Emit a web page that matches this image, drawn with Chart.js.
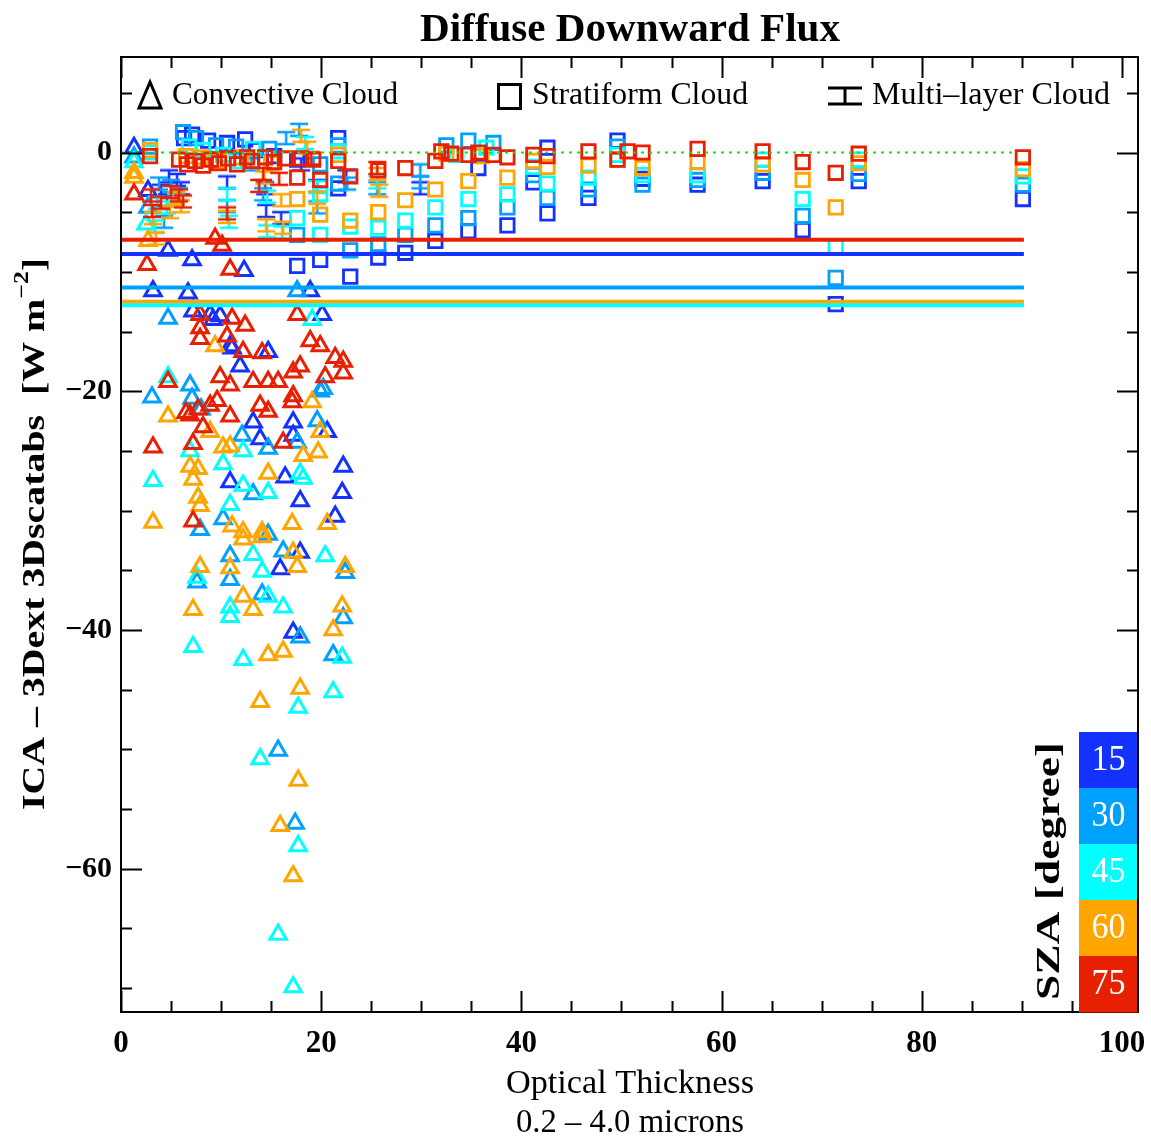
<!DOCTYPE html>
<html lang="en">
<head>
  <meta charset="UTF-8" />
  <title>Diffuse Downward Flux</title>
  <style>
    body { margin: 0; background: #ffffff; }
    canvas { display: block; }
  </style>
</head>
<body>
  <canvas id="chart" width="1151" height="1143"></canvas>

  <script src="https://cdn.jsdelivr.net/npm/chart.js"></script>
  <script>
    // solar zenith angle classes and their colours
    const szaLabels = ['15', '30', '45', '60', '75'];
    const szaColors = ['#1432ff', '#00a0ff', '#00ffff', '#ffa500', '#e62000'];

    // axis tick values
    const xTickValues = [0, 20, 40, 60, 80, 100];
    const yTickValues = [-60, -40, -20, 0];

    // mean difference per SZA (horizontal lines) and the x-span they cover
    const meanDiff = [-8.5, -11.3, -12.8, -12.5, -7.3];
    const meanSpan = [0, 90.2];
    const zeroSpan = [0, 89.5];

    // [optical thickness, ICA - 3D difference]
    const convective15 = [[1.3,0.4],[2.7,-3.2],[3.2,-11.6],[4.7,-8.2],[7.1,-9.0],[12.3,-9.9],[6.7,-11.8],[18.9,-11.6],
      [7.2,-13.3],[8.9,-13.6],[9.9,-13.7],[20.1,-13.6],[10.9,-16.2],[14.7,-16.7],[11.9,-17.9],[11.1,-16.4],[13.2,-22.6],
      [13.9,-24.0],[17.2,-22.6],[17.2,-23.7],[20.6,-23.4],[16.4,-27.2],[22.2,-26.3],[22.1,-28.5],[17.9,-29.2],[21.4,-30.5],
      [17.9,-33.5],[15.9,-34.9],[17.2,-40.2],[10.9,-27.6],[9.2,-14.0]];
    const convective30 = [[1.3,-0.4],[2.7,-4.6],[4.7,-13.9],[17.6,-11.6],[3.1,-20.5],[6.9,-19.5],[7.1,-20.6],[19.9,-20.0],
      [19.6,-22.5],[12.1,-23.7],[14.7,-24.8],[17.6,-24.3],[13.2,-28.6],[7.9,-31.6],[10.2,-30.7],[14.7,-32.0],[10.9,-33.8],
      [16.2,-33.4],[7.6,-36.0],[10.9,-35.8],[14.1,-37.0],[22.2,-39.0],[22.4,-35.2],[17.9,-40.6],[21.2,-42.1],[17.4,-56.2],
      [15.7,-50.1],[20.2,-19.8],[8.0,-21.5]];
    const convective45 = [[1.3,-0.8],[2.5,-6.0],[3.2,-27.5],[4.7,-18.8],[19.1,-14.0],[6.9,-25.0],[12.2,-25.0],[10.2,-26.1],
      [17.9,-26.9],[18.2,-27.3],[12.2,-27.9],[14.7,-28.5],[10.9,-29.5],[13.2,-33.7],[20.4,-33.8],[14.1,-35.1],[7.6,-35.6],
      [14.7,-37.2],[16.2,-38.1],[10.9,-38.1],[7.2,-41.4],[12.2,-42.5],[22.1,-42.3],[21.2,-45.2],[17.7,-46.5],[13.9,-50.8],
      [17.7,-58.1],[15.7,-65.5],[17.2,-69.9],[10.9,-38.9]];
    const convective60 = [[1.3,-1.7],[1.3,-2.1],[2.7,-7.4],[9.4,-16.2],[19.1,-20.9],[4.7,-22.1],[19.9,-23.4],[8.9,-23.4],
      [10.2,-24.7],[10.9,-24.6],[18.2,-25.4],[19.7,-25.1],[6.9,-26.3],[7.7,-26.5],[7.2,-27.4],[14.7,-26.9],[7.7,-28.9],
      [7.9,-29.6],[3.2,-31.0],[11.1,-31.3],[12.2,-31.8],[14.1,-31.8],[17.1,-31.1],[20.6,-31.1],[12.2,-32.4],[14.1,-32.2],
      [17.2,-33.5],[7.9,-34.7],[10.9,-34.8],[17.6,-34.7],[22.4,-34.7],[12.2,-37.2],[13.2,-38.3],[7.2,-38.3],[22.1,-38.0],
      [21.2,-40.0],[14.7,-42.1],[16.2,-41.8],[17.9,-44.9],[13.9,-46.0],[17.7,-52.6],[15.9,-56.4],[17.2,-60.6]];
    const convective75 = [[1.3,-3.5],[2.6,-9.4],[3.2,-24.7],[9.4,-7.2],[10.1,-7.8],[10.9,-9.8],[7.9,-13.6],[11.1,-13.9],
      [12.4,-14.5],[7.9,-14.7],[7.9,-15.6],[10.6,-15.4],[12.2,-16.7],[14.1,-16.8],[17.6,-13.6],[18.9,-15.8],[19.9,-16.2],
      [21.4,-17.2],[22.2,-17.5],[22.2,-18.5],[17.9,-17.9],[20.4,-18.8],[17.2,-18.4],[4.7,-19.2],[9.9,-18.8],[10.9,-19.5],
      [13.2,-19.2],[14.7,-19.2],[15.7,-19.2],[17.2,-20.4],[17.1,-20.9],[6.9,-22.0],[7.7,-21.5],[8.9,-21.2],[9.6,-20.8],
      [10.9,-22.1],[13.9,-21.2],[14.7,-21.7],[7.2,-24.4],[16.2,-24.3],[7.2,-30.9],[6.5,-21.8],[8.2,-23.0]];

    const stratiform15 = [[6.3,1.2],[7.1,1.5],[8.7,1.0],[10.6,0.8],[12.4,1.1],[13.5,0.2],[15.3,-0.3],[17.6,-0.6],[21.7,1.2],
      [17.6,-9.5],[19.9,-9.0],[22.9,-10.4],[21.7,-3.0],[25.7,-8.8],[28.4,-8.4],[31.4,-7.4],[34.7,-6.6],[35.7,-1.3],[38.6,-6.1],
      [41.2,-2.5],[42.6,0.4],[42.6,-5.1],[46.7,-3.8],[49.6,1.0],[52.1,-2.2],[57.6,-2.7],[64.1,-2.4],[68.1,-6.5],[71.4,-12.7],
      [73.7,-2.4],[90.1,-3.9]];
    const stratiform30 = [[2.9,0.5],[6.2,1.7],[7.5,1.2],[9.5,0.6],[11.5,0.5],[14.8,0.3],[17.6,-6.9],[19.9,-1.0],[21.7,0.6],
      [22.9,-8.2],[21.7,-2.6],[25.7,-7.7],[28.4,-6.9],[31.4,-6.1],[32.5,0.6],[34.7,-5.5],[34.7,1.0],[37.2,0.8],[38.6,-4.6],
      [41.2,-1.9],[42.6,-3.8],[46.7,-3.1],[49.6,0.5],[52.1,-2.7],[57.6,-2.3],[64.1,-1.7],[68.1,-5.3],[71.4,-10.5],[73.7,-1.8],
      [90.1,-2.7]];
    const stratiform45 = [[2.9,0.0],[6.8,0.5],[8.2,0.2],[10.2,-0.2],[13.2,0.3],[17.6,-5.5],[19.9,-3.5],[19.9,-6.9],[21.7,0.1],
      [22.9,-6.2],[25.7,-6.3],[28.4,-5.7],[31.4,-4.6],[33.5,-0.2],[34.7,-3.9],[36.5,0.4],[38.6,-3.5],[41.2,-1.2],[42.6,-2.6],
      [46.7,-2.1],[49.6,-0.2],[52.1,-1.9],[57.6,-1.9],[64.1,-0.6],[68.1,-3.9],[71.4,-7.9],[73.7,-0.6],[90.1,-2.0]];
    const stratiform60 = [[2.9,0.2],[6.5,-0.3],[8.0,-0.4],[9.8,-0.7],[12.0,-0.4],[15.0,-0.9],[17.6,-3.9],[19.9,-5.2],[21.7,-0.2],
      [22.9,-5.7],[25.7,-5.0],[28.4,-4.0],[31.4,-3.1],[32.5,-0.1],[34.7,-2.4],[36.0,-0.3],[38.6,-2.1],[41.2,-0.7],[42.6,-1.2],
      [46.7,-1.1],[49.6,-0.6],[52.1,-1.3],[57.6,-0.8],[64.1,-1.0],[68.1,-2.3],[71.4,-4.6],[73.7,-0.9],[90.1,-1.4]];
    const stratiform75 = [[2.9,-0.3],[5.8,-0.6],[6.6,-1.0],[7.4,-0.7],[8.2,-1.1],[9.0,-0.6],[9.8,-0.9],[10.7,-0.5],[11.6,-1.0],
      [12.6,-0.4],[13.1,-0.7],[14.4,-0.4],[15.3,-0.8],[16.4,-0.5],[18.0,-0.5],[19.2,-0.6],[17.6,-2.1],[19.9,-2.3],[21.7,-0.7],
      [22.9,-2.0],[25.7,-1.5],[28.4,-1.3],[31.4,-0.7],[32.0,0.1],[33.0,-0.1],[34.7,-0.2],[35.7,0.0],[37.2,-0.2],[38.6,-0.4],
      [41.2,-0.2],[42.6,-0.3],[46.7,0.1],[49.6,-0.6],[50.6,0.1],[52.1,0.0],[57.6,0.3],[64.1,0.1],[68.1,-0.8],[71.4,-1.7],
      [73.7,-0.1],[90.1,-0.4]];

    const multilayer15 = [[4.0,-3.2],[4.8,-2.0],[5.6,-2.3],[6.0,-3.0],[10.6,-2.5],[14.4,-3.0],[14.5,-4.9],[16.0,-5.5],[18.0,-1.0],
      [19.6,-2.8],[22.5,-2.0],[29.9,-3.0],[4.6,-4.0]];
    const multilayer30 = [[3.8,-2.6],[5.0,-2.8],[5.8,-3.5],[10.6,-4.5],[14.2,-3.5],[16.5,1.2],[17.8,1.9],[19.6,-4.6],[22.6,-2.6],
      [25.6,-3.0],[29.9,-1.5],[29.9,-2.5],[4.3,-5.8],[13.0,-1.0]];
    const multilayer45 = [[3.6,-4.2],[4.6,-4.6],[5.5,-4.0],[10.6,-3.5],[10.8,-5.8],[14.6,-3.7],[14.6,-6.6],[16.1,-6.7],[18.4,0.8],
      [19.6,-2.9],[25.6,-2.5],[3.4,-6.2],[12.0,-0.8]];
    const multilayer60 = [[3.2,-5.5],[4.9,-5.0],[5.5,-3.8],[6.0,-4.5],[10.6,-5.4],[14.3,-2.1],[14.5,-6.1],[16.0,-4.0],[16.2,-6.3],
      [18.0,1.4],[18.6,0.4],[19.6,-3.8],[25.6,-1.8],[25.8,-3.2],[3.5,-7.2]];
    const multilayer75 = [[3.1,-4.9],[4.0,-4.2],[5.0,-3.3],[5.8,-3.6],[6.2,-4.1],[10.6,-5.1],[14.2,-1.8],[15.8,-2.2],[13.8,-2.8],
      [25.6,-1.3],[19.0,-0.5],[3.0,-3.6]];

    const convective = [convective15, convective30, convective45, convective60, convective75];
    const stratiform = [stratiform15, stratiform30, stratiform45, stratiform60, stratiform75];
    const multilayer = [multilayer15, multilayer30, multilayer45, multilayer60, multilayer75];

    const serif = '"Liberation Serif", "DejaVu Serif", serif';

    // "I" shaped marker for multi-layer cloud
    function makeIBeam(color) {
      const c = document.createElement('canvas');
      c.width = 20;
      c.height = 16;
      const g = c.getContext('2d');
      g.strokeStyle = color;
      g.lineWidth = 2.5;
      g.beginPath();
      g.moveTo(1, 2); g.lineTo(19, 2);
      g.moveTo(1, 14); g.lineTo(19, 14);
      g.moveTo(10, 2); g.lineTo(10, 14);
      g.stroke();
      return c;
    }

    const toPts = arr => arr.map(p => ({ x: p[0], y: p[1] }));

    const datasets = [];
    // zero reference line
    datasets.push({
      type: 'scatter', showLine: true, order: 0,
      data: zeroSpan.map(x => ({ x: x, y: 0 })),
      borderColor: '#00ee00', borderWidth: 2, borderDash: [3, 5], pointRadius: 0
    });
    szaColors.forEach((col, i) => {
      datasets.push({
        type: 'scatter', showLine: true, order: 0,
        data: meanSpan.map(x => ({ x: x, y: meanDiff[i] })),
        borderColor: col, borderWidth: 4, pointRadius: 0
      });
      const ord = 5 - i;
      datasets.push({
        order: ord, data: toPts(convective[i]), pointStyle: 'triangle', pointRadius: 9.5,
        borderColor: col, backgroundColor: 'rgba(0,0,0,0)', borderWidth: 3
      });
      datasets.push({
        order: ord, data: toPts(stratiform[i]), pointStyle: 'rect', pointRadius: 9.5,
        borderColor: col, backgroundColor: 'rgba(0,0,0,0)', borderWidth: 2.8
      });
      datasets.push({
        order: ord, data: toPts(multilayer[i]), pointStyle: makeIBeam(col), pointRadius: 8
      });
    });

    function fitText(ctx, text, cx, cy, width) {
      const w = ctx.measureText(text).width;
      ctx.save();
      ctx.translate(cx, cy);
      ctx.scale(width / w, 1);
      ctx.fillText(text, 0, 0);
      ctx.restore();
    }

    const decorPlugin = {
      id: 'decor',
      afterDraw(chart) {
        const { ctx, chartArea: a, scales: { x, y } } = chart;
        ctx.save();

        // tick marks pointing inward, on all four sides
        ctx.strokeStyle = '#000';
        ctx.lineWidth = 2;
        ctx.beginPath();
        for (let v = 0; v <= 100; v += 5) {
          const px = Math.round(x.getPixelForValue(v)) + 0.5;
          const len = v % 20 === 0 ? 21 : 11;
          ctx.moveTo(px, a.bottom); ctx.lineTo(px, a.bottom - len);
          ctx.moveTo(px, a.top); ctx.lineTo(px, a.top + len);
        }
        for (let v = -70; v <= 5; v += 5) {
          const py = Math.round(y.getPixelForValue(v)) + 0.5;
          const len = v % 20 === 0 ? 21 : 11;
          ctx.moveTo(a.left, py); ctx.lineTo(a.left + len, py);
          ctx.moveTo(a.right, py); ctx.lineTo(a.right - len, py);
        }
        ctx.stroke();
        ctx.strokeRect(a.left, a.top, a.right - a.left, a.bottom - a.top);

        ctx.fillStyle = '#000';
        ctx.textAlign = 'center';
        ctx.textBaseline = 'middle';

        // title
        ctx.font = 'bold 40px ' + serif;
        fitText(ctx, 'Diffuse Downward Flux', 630, 31, 420);

        // x axis title
        ctx.font = '33px ' + serif;
        fitText(ctx, 'Optical Thickness', 630, 1084, 248);
        fitText(ctx, '0.2 – 4.0 microns', 630, 1123, 228);

        // y axis title with superscript
        ctx.save();
        ctx.translate(36, 534);
        ctx.rotate(-Math.PI / 2);
        ctx.font = 'bold 31px ' + serif;
        const main = 'ICA – 3Dext 3Dscatabs  [W m';
        const wMain = ctx.measureText(main).width;
        ctx.font = 'bold 20px ' + serif;
        const wSup = ctx.measureText('−2').width;
        ctx.font = 'bold 31px ' + serif;
        const wEnd = ctx.measureText(']').width;
        const total = wMain + wSup + wEnd;
        ctx.scale(552 / total, 1);
        ctx.textAlign = 'left';
        let cx = -total / 2;
        ctx.fillText(main, cx, 0);
        cx += wMain;
        ctx.font = 'bold 20px ' + serif;
        ctx.fillText('−2', cx, -13);
        cx += wSup;
        ctx.font = 'bold 31px ' + serif;
        ctx.fillText(']', cx, 0);
        ctx.restore();

        // legend inside the plot
        ctx.lineWidth = 3;
        ctx.beginPath();
        ctx.moveTo(150, 82); ctx.lineTo(161, 108); ctx.lineTo(139, 108); ctx.closePath();
        ctx.stroke();
        ctx.strokeRect(498.5, 84.5, 22, 24);
        ctx.beginPath();
        ctx.moveTo(828, 88); ctx.lineTo(862, 88);
        ctx.moveTo(828, 104); ctx.lineTo(862, 104);
        ctx.moveTo(845, 88); ctx.lineTo(845, 104);
        ctx.stroke();
        ctx.font = '31px ' + serif;
        ctx.textAlign = 'center';
        fitText(ctx, 'Convective Cloud', 285, 96, 226);
        fitText(ctx, 'Stratiform Cloud', 640, 96, 216);
        fitText(ctx, 'Multi–layer Cloud', 991, 96, 238);

        // SZA colour key
        const kx = 1079, kw = a.right - kx, kTop = 732, kh = (a.bottom - kTop) / 5;
        szaColors.forEach((col, i) => {
          ctx.fillStyle = col;
          ctx.fillRect(kx, kTop + i * kh, kw, kh + 0.5);
          ctx.fillStyle = '#ffffff';
          ctx.font = '36px ' + serif;
          fitText(ctx, szaLabels[i], kx + kw / 2, kTop + i * kh + kh / 2 + 1, 34);
        });
        ctx.strokeStyle = '#000';
        ctx.lineWidth = 2;
        ctx.beginPath();
        ctx.moveTo(a.right, kTop); ctx.lineTo(a.right, a.bottom);
        ctx.stroke();

        ctx.save();
        ctx.translate(1050, 871);
        ctx.rotate(-Math.PI / 2);
        ctx.fillStyle = '#000';
        ctx.font = 'bold 33px ' + serif;
        fitText(ctx, 'SZA [degree]', 0, 0, 258);
        ctx.restore();

        ctx.restore();
      }
    };

    new Chart(document.getElementById('chart'), {
      type: 'scatter',
      data: { datasets: datasets },
      options: {
        responsive: false,
        animation: false,
        events: [],
        layout: { padding: { top: 57, right: 13, left: 0, bottom: 0 } },
        plugins: { legend: { display: false }, tooltip: { enabled: false }, title: { display: false } },
        scales: {
          x: {
            type: 'linear', min: 0, max: 101.6,
            grid: { display: false, drawTicks: false },
            border: { display: false },
            ticks: {
              padding: 13, maxRotation: 0,
              color: '#000', font: { family: serif, size: 31, weight: 'bold' }
            },
            afterBuildTicks: s => { s.ticks = xTickValues.map(v => ({ value: v })); },
            afterFit: s => { s.height = 131; s.paddingLeft = 0; s.paddingRight = 0; }
          },
          y: {
            type: 'linear', min: -72, max: 8,
            grid: { display: false, drawTicks: false },
            border: { display: false },
            ticks: {
              padding: 9,
              color: '#000', font: { family: serif, size: 30, weight: 'bold' },
              callback: v => (v < 0 ? '−' + Math.abs(v) : String(v))
            },
            afterBuildTicks: s => { s.ticks = yTickValues.map(v => ({ value: v })); },
            afterFit: s => { s.width = 121; s.paddingTop = 0; s.paddingBottom = 0; }
          }
        }
      },
      plugins: [decorPlugin]
    });
  </script>
</body>
</html>
